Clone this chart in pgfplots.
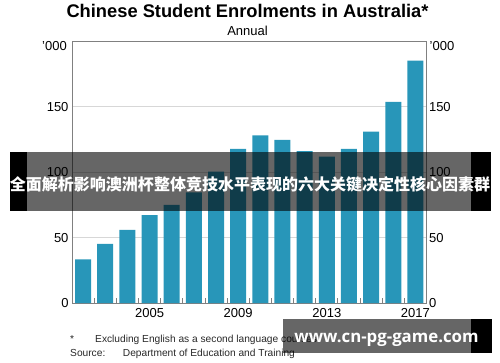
\documentclass[border=0pt]{standalone}
\usepackage{pgfplots}
\pgfplotsset{compat=1.18}
\usepackage{fontspec}
\setmainfont{Liberation Sans}
\newfontfamily\cjk{Noto Sans CJK SC}
\newfontfamily\wmfont{Open Sans}
\definecolor{barblue}{RGB}{40,150,185}
\definecolor{framegray}{RGB}{128,128,128}
\definecolor{gridgray}{RGB}{215,215,215}
\definecolor{notegray}{RGB}{40,40,40}
\begin{document}
\begin{tikzpicture}[x=1bp,y=1bp]
\useasboundingbox (0,0) rectangle (500,362);
\pgfplotsset{
  myaxis/.style={
    at={(72bp,58.8bp)}, anchor=south west,
    scale only axis, width=354.5bp, height=262bp,
    xmin=2001.5, xmax=2017.5, ymin=0, ymax=200,
    /pgf/number format/assume math mode=true,
    /pgf/number format/1000 sep={},
    ticklabel style={font=\fontsize{13bp}{15bp}\selectfont, text=black},
  }
}
\begin{axis}[myaxis,
  clip=false,
  ybar, bar width=16bp,
  xtick={2005,2009,2013,2017},
  minor xtick={2002.5,2003.5,...,2016.5},
  xtick pos=bottom, ytick pos=left,
  tick align=inside,
  major tick length=0pt, minor tick length=5bp,
  every tick/.style={framegray, line width=0.8bp},
  ytick={0,50,100,150},
  ymajorgrids, grid style={gridgray, line width=0.8bp},
  axis line style={framegray, line width=0.8bp},
  xticklabel style={yshift=-2bp},
]
\addplot[fill=barblue, draw=none, bar shift=0pt] coordinates {
(2002,33.5) (2003,45.2) (2004,55.9) (2005,67.3) (2006,75.0) (2007,84.6)
(2008,100.4) (2009,117.8) (2010,128.2) (2011,124.6) (2012,116.0)
(2013,111.8) (2014,117.9) (2015,130.9) (2016,153.6) (2017,185.1)};
\node[anchor=north east, inner sep=0pt, font=\fontsize{13bp}{15bp}\selectfont] at (rel axis cs:0,1) [xshift=-5bp] {'000};
\node[anchor=north west, inner sep=0pt, font=\fontsize{13bp}{15bp}\selectfont] at (rel axis cs:1,1) [xshift=3bp] {'000};
\end{axis}
\begin{axis}[myaxis,
  axis line style={draw=none},
  xtick=\empty, ytick={0,50,100,150},
  yticklabel pos=right, major tick length=0pt,
  yticklabel style={xshift=-1bp},
]
\end{axis}
% titles
\node[anchor=base, inner sep=0pt, font=\bfseries\fontsize{18.3bp}{20bp}\selectfont] at (247.5,345) {Chinese Student Enrolments in Australia*};
\node[anchor=base, inner sep=0pt, font=\fontsize{13bp}{15bp}\selectfont] at (247.5,327) {Annual};
% notes
\node[anchor=base west, inner sep=0pt, text=notegray, font=\fontsize{10.2bp}{12bp}\selectfont] at (70,19.7) {*};
\node[anchor=base west, inner sep=0pt, text=notegray, font=\fontsize{10.2bp}{12bp}\selectfont] at (95,19.7) {Excluding English as a second language courses};
\node[anchor=base west, inner sep=0pt, text=notegray, font=\fontsize{10.2bp}{12bp}\selectfont] at (70,5.3) {Source:};
\node[anchor=base west, inner sep=0pt, text=notegray, font=\fontsize{10.2bp}{12bp}\selectfont] at (122.7,5.3) {Department of Education and Training};
% banner overlay
\fill[black, opacity=0.6] (27,151) rectangle (471,210);
\fill[black] (10,151) rectangle (27,210);
\fill[black] (471,151) rectangle (491,210);
\node[anchor=center, inner sep=0pt, text=white, font=\cjk\bfseries\fontsize{16bp}{18bp}\selectfont] at (250,178) {全面解析影响澳洲杯整体竞技水平表现的六大关键决定性核心因素群};
% watermark
\fill[black, opacity=0.6] (283,9.3) rectangle (471,43);
\fill[black] (471,9.3) rectangle (492,43);
\node[anchor=base, inner sep=0pt, text=white, font=\wmfont\bfseries\fontsize{16.8bp}{19bp}\selectfont] at (386.5,20) {www.cn-pg-game.com};
\end{tikzpicture}
\end{document}
